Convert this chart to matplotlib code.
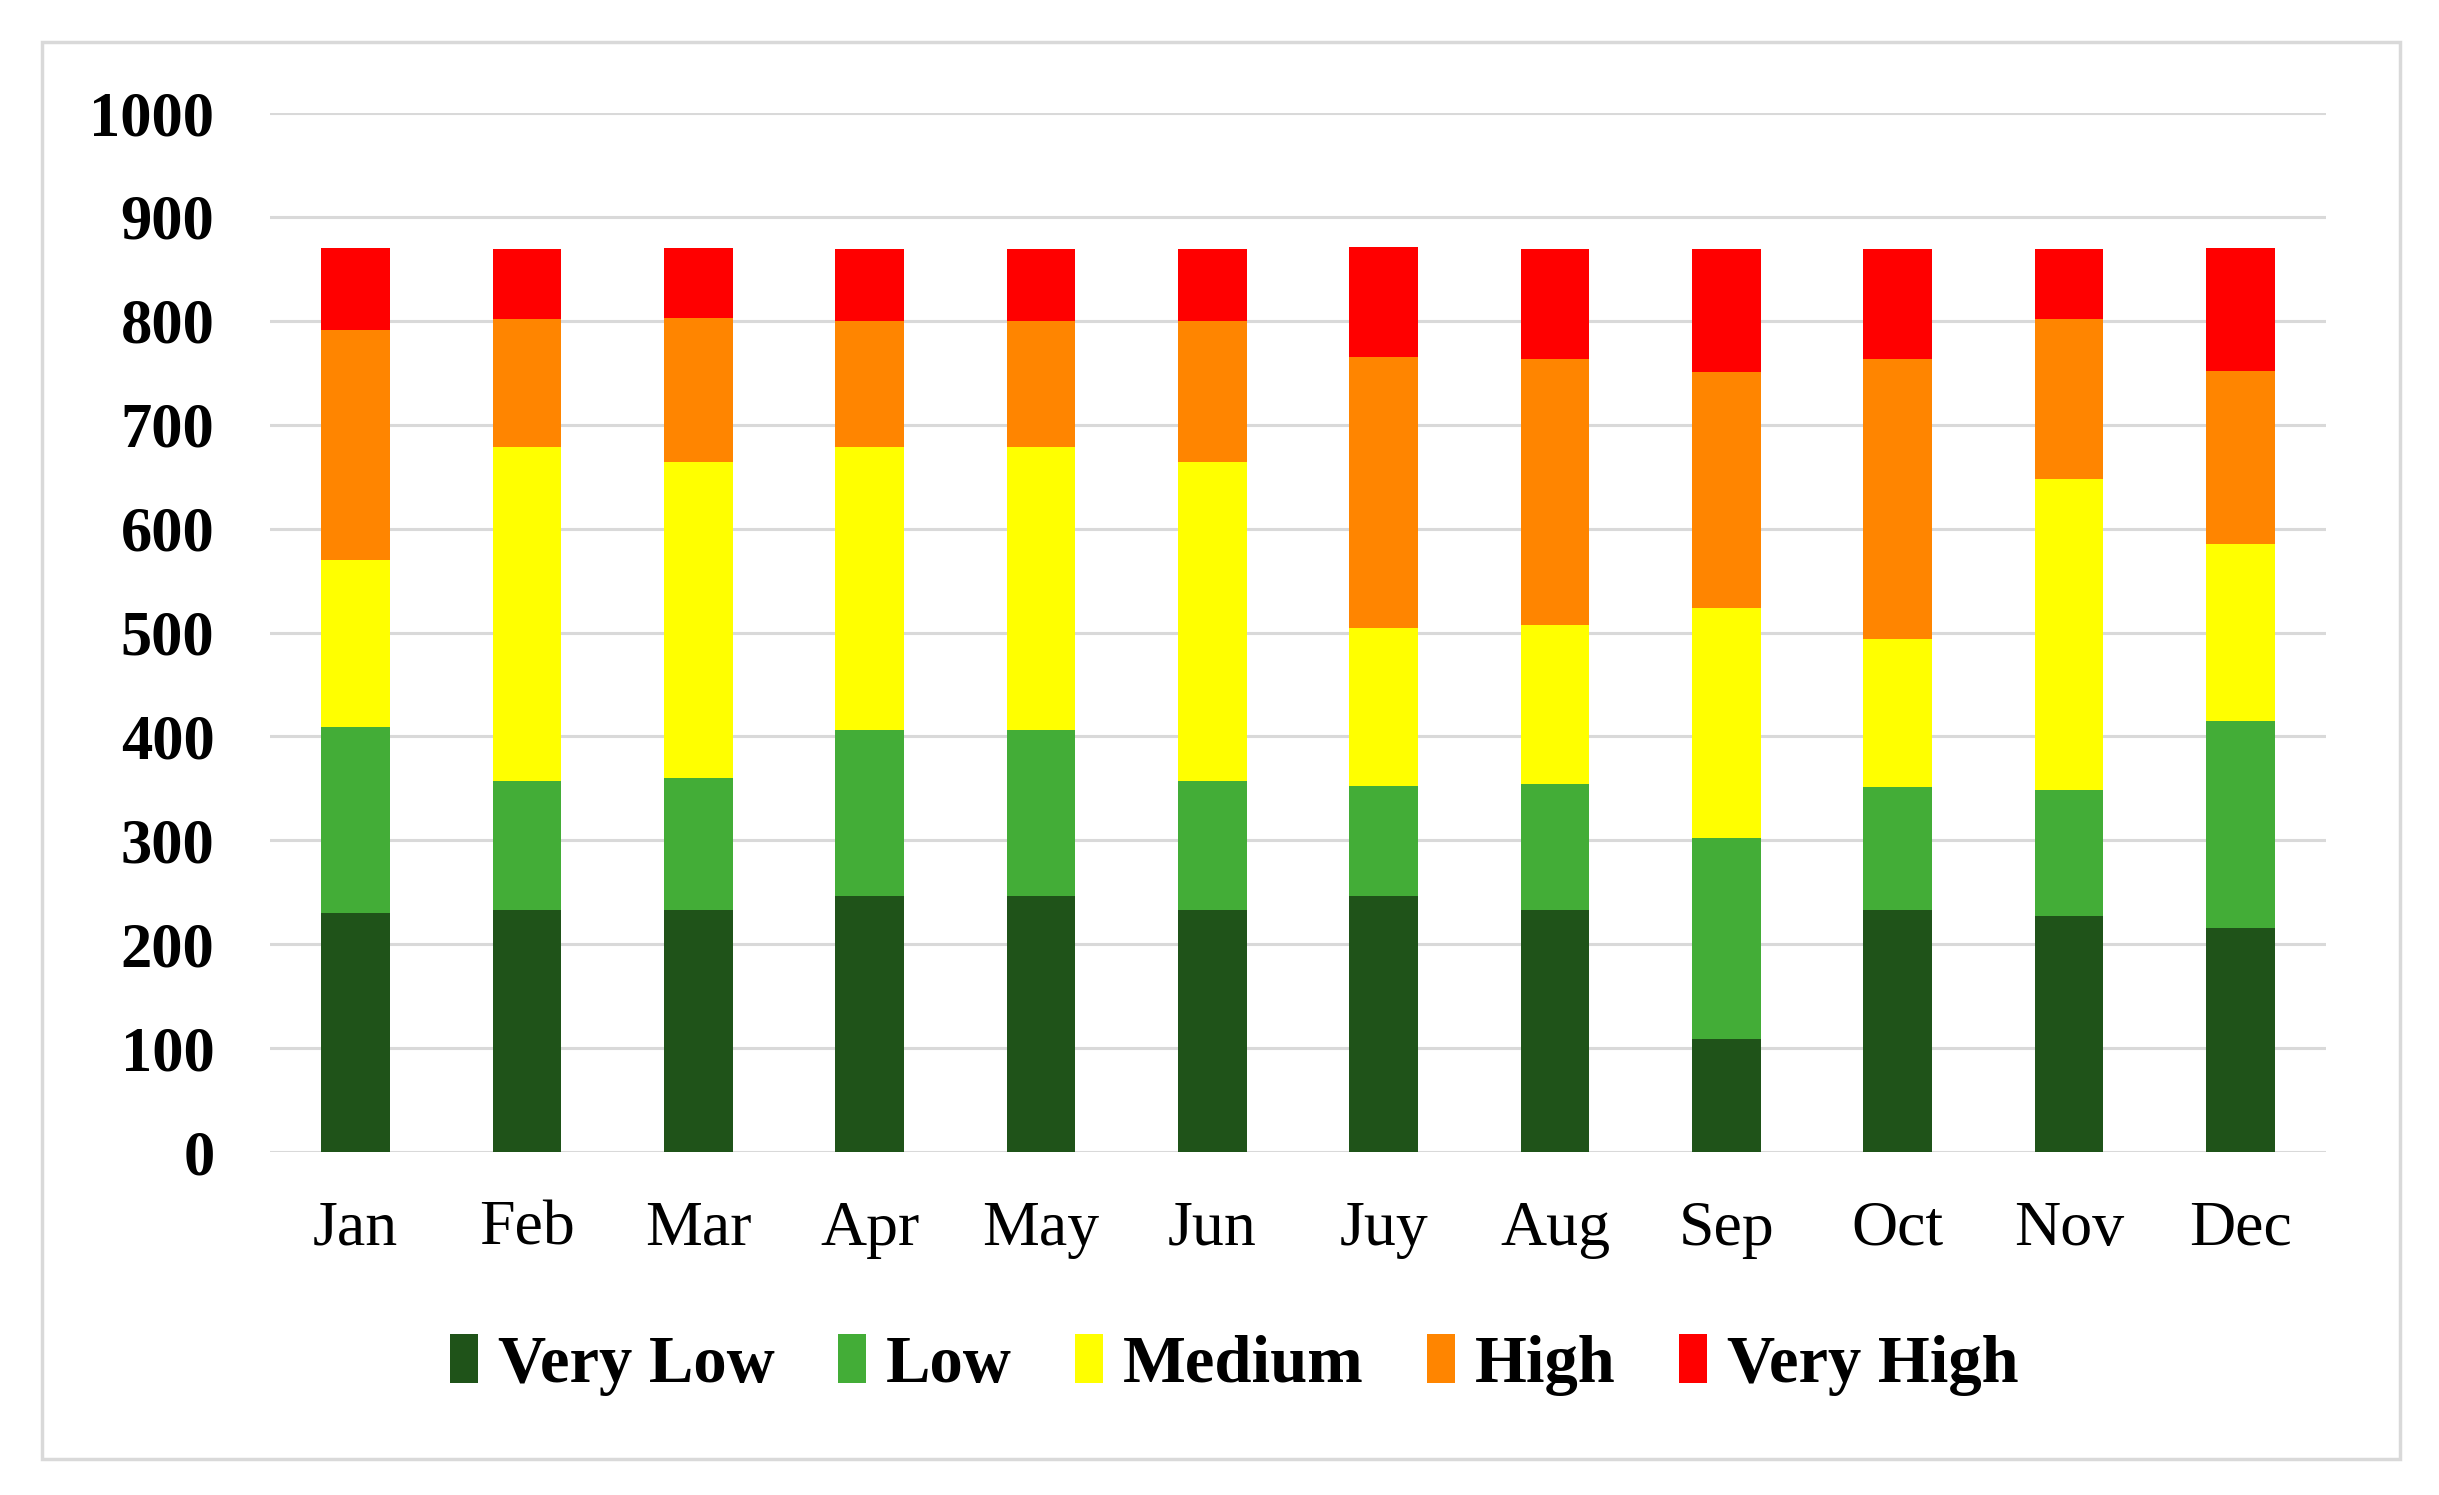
import matplotlib
matplotlib.use("Agg")
import matplotlib.pyplot as plt
from matplotlib.patches import Rectangle, Patch
import numpy as np

months = ["Jan", "Feb", "Mar", "Apr", "May", "Jun", "Juy", "Aug", "Sep", "Oct", "Nov", "Dec"]
very_low = [230, 233, 233, 246, 246, 233, 246, 233, 109, 233, 227, 216]
low = [179, 124, 127, 160, 160, 124, 106, 121, 193, 118, 121, 199]
medium = [161, 322, 304, 273, 273, 307, 152, 153, 222, 143, 300, 170]
high = [221, 123, 139, 121, 121, 136, 261, 256, 227, 269, 154, 167]
very_high = [79, 67, 67, 69, 69, 69, 106, 106, 118, 106, 67, 118]

series_names = ["Very Low", "Low", "Medium", "High", "Very High"]
series = [very_low, low, medium, high, very_high]
colors = ["#1f5319", "#43ad37", "#ffff00", "#ff8500", "#ff0000"]
yticks = [0, 100, 200, 300, 400, 500, 600, 700, 800, 900, 1000]

plt.rcParams["font.family"] = ["Liberation Serif", "DejaVu Serif"]

fig = plt.figure(figsize=(24.39, 14.95), dpi=100)
ax = fig.add_axes([0.1107, 0.2294, 0.8430, 0.6950])

x = np.arange(len(months))
bottom = np.zeros(len(months))
for name, vals, c in zip(series_names, series, colors):
    ax.bar(x, vals, 0.4, bottom=bottom, color=c, label=name, zorder=3)
    bottom += np.array(vals)

ax.set_xlim(-0.5, len(months) - 0.5)
ax.set_ylim(0, 1000)
ax.set_yticks(yticks)
ax.set_yticklabels([str(t) for t in yticks], fontsize=45, fontweight="bold")
ax.set_xticks(x)
ax.set_xticklabels(months, fontsize=46)
ax.tick_params(axis="y", length=0, pad=40)
ax.tick_params(axis="x", length=0, pad=35)
ax.grid(axis="y", color="#d9d9d9", linewidth=2.2, zorder=0)
ax.set_axisbelow(True)
for s in ax.spines.values():
    s.set_visible(False)

handles = [Patch(facecolor=c, edgecolor="none") for c in colors]
fig.legend(handles, series_names, loc="center", bbox_to_anchor=(0.506, 0.087),
           ncol=5, frameon=False, prop={"size": 48, "weight": "bold"},
           handlelength=0.42, handleheight=0.75, handletextpad=0.3, columnspacing=0.95)

fig.patches.append(Rectangle((42 / 2439, 1 - 1459 / 1495), (2400 - 42) / 2439, (1459 - 42) / 1495,
                             transform=fig.transFigure, fill=False, edgecolor="#d9d9d9", linewidth=2.5))

fig.savefig("out.png", dpi=100, facecolor="white")
